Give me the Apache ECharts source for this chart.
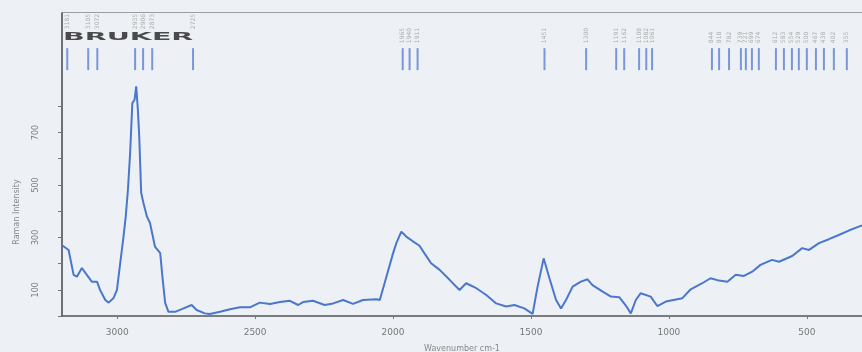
<!DOCTYPE html>
<html>
<head>
<meta charset="utf-8">
<script src="https://cdn.jsdelivr.net/npm/echarts@6/dist/echarts.min.js"></script>
<style>
  html, body { margin: 0; padding: 0; background: #edf1f5; }
  #main { width: 862px; height: 352px; }
</style>
</head>
<body>
<div id="main"></div>
<script>
// spectrum (wavenumber cm-1, intensity)
const wavenumbers = [3200, 3194, 3176, 3158, 3146, 3128, 3110, 3092, 3073, 3062, 3043, 3031, 3013, 3001, 2989, 2977, 2969, 2961, 2953, 2945, 2937, 2931, 2925, 2920, 2913, 2905, 2892, 2881, 2863, 2844, 2836, 2826, 2814, 2790, 2766, 2730, 2712, 2682, 2664, 2627, 2591, 2555, 2519, 2483, 2446, 2410, 2374, 2344, 2326, 2290, 2248, 2217, 2181, 2145, 2109, 2060, 2048, 2024, 2000, 1988, 1970, 1952, 1928, 1904, 1886, 1862, 1831, 1795, 1759, 1735, 1698, 1662, 1626, 1590, 1560, 1524, 1494, 1476, 1454, 1433, 1409, 1391, 1373, 1349, 1319, 1295, 1277, 1240, 1210, 1180, 1156, 1138, 1120, 1102, 1066, 1042, 1011, 951, 921, 879, 849, 818, 788, 758, 728, 698, 668, 626, 601, 553, 517, 492, 456, 420, 384, 348, 312, 300];
const intensity = [270, 265, 252, 157, 150, 183, 157, 131, 131, 99, 61, 51, 69, 99, 202, 303, 379, 481, 623, 812, 825, 876, 787, 685, 470, 432, 379, 355, 265, 240, 150, 50, 16, 16, 26, 42, 23, 10, 8, 16, 26, 33, 33, 51, 46, 53, 58, 42, 53, 58, 42, 48, 61, 46, 61, 64, 61, 150, 239, 278, 322, 303, 285, 268, 239, 201, 176, 138, 99, 125, 106, 80, 48, 36, 42, 29, 8, 112, 220, 144, 61, 29, 61, 112, 131, 140, 118, 93, 74, 72, 40, 10, 61, 87, 74, 38, 55, 68, 102, 125, 144, 135, 131, 157, 153, 169, 195, 214, 207, 229, 259, 252, 278, 293, 309, 326, 341, 346];

// picked peaks marked along the top
const peakPositions = [3181, 3105, 3072, 2935, 2906, 2873, 2725, 1965, 1940, 1911, 1451, 1300, 1191, 1162, 1108, 1082, 1061, 844, 818, 782, 739, 721, 699, 674, 612, 583, 554, 529, 500, 467, 438, 402, 355];
const peakMarkerLevel = 980;

const xTickLabels = [3000, 2500, 2000, 1500, 1000, 500];
const yTicks = [0, 100, 200, 300, 400, 500, 600, 700, 800];
const yTickLabels = [100, 300, 500, 700];

const chart = echarts.init(document.getElementById("main"));

chart.setOption({
  backgroundColor: "#edf1f5",
  animation: false,
  grid: { left: 62, right: 0, top: 13, bottom: 36, outerBoundsMode: "none" },
  xAxis: {
    type: "value",
    inverse: true,
    min: 300,
    max: 3200,
    name: "Wavenumber cm-1",
    nameLocation: "middle",
    nameGap: 29,
    nameTextStyle: { color: "#888", fontSize: 8, fontFamily: "DejaVu Sans" },
    axisLine: { lineStyle: { color: "#555", width: 1.5 } },
    axisTick: { customValues: xTickLabels, length: 3, lineStyle: { color: "#777" } },
    axisLabel: {
      customValues: xTickLabels,
      formatter: (v) => String(v),
      color: "#777",
      fontSize: 9,
      margin: 12,
      fontFamily: "DejaVu Sans",
    },
    splitLine: { show: false },
  },
  yAxis: {
    type: "value",
    min: 0,
    max: 1156,
    axisLine: { show: true, lineStyle: { color: "#444", width: 1.5 } },
    axisTick: { customValues: yTicks, length: 4, lineStyle: { color: "#777" } },
    axisLabel: {
      customValues: yTickLabels,
      formatter: (v) => String(v),
      rotate: 90,
      color: "#777",
      fontSize: 8,
      margin: 22,
      fontFamily: "DejaVu Sans",
    },
    splitLine: { show: false },
  },
  graphic: [
    {
      type: "line",
      shape: { x1: 62, y1: 12.5, x2: 862, y2: 12.5 },
      style: { stroke: "#9a9ea4", lineWidth: 1 },
    },
    {
      type: "text",
      x: 63,
      y: 32,
      scaleX: 2.85,
      style: { text: "BRUKER", font: 'bold 10px "DejaVu Sans"', fill: "#4a4a4a" },
    },
    {
      type: "text",
      x: 17,
      y: 212,
      rotation: Math.PI / 2,
      style: {
        text: "Raman Intensity",
        font: '8px "DejaVu Sans"',
        fill: "#888",
        align: "center",
        verticalAlign: "middle",
      },
    },
  ],
  series: [
    {
      type: "line",
      data: wavenumbers.map((w, i) => [w, intensity[i]]),
      showSymbol: false,
      lineStyle: { color: "#4a77cc", width: 2 },
      z: 3,
    },
    {
      type: "scatter",
      // labels of the peaks under the logo sit above it
      data: peakPositions.map((w) => ({
        value: [w, peakMarkerLevel],
        label: { distance: w > 2700 ? 19 : 5 },
      })),
      symbol: "rect",
      symbolSize: [2, 22],
      itemStyle: { color: "#5b80d2" },
      label: {
        show: true,
        position: "top",
        rotate: 90,
        align: "left",
        verticalAlign: "middle",
        fontSize: 6,
        color: "#999",
        fontFamily: "DejaVu Sans",
        formatter: (p) => p.value[0].toFixed(0),
      },
    },
  ],
});
</script>
</body>
</html>
